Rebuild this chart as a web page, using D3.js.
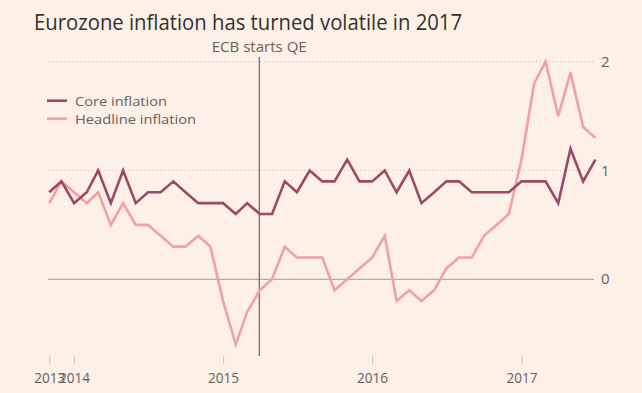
<!DOCTYPE html>
<html>
<head>
<meta charset="utf-8">
<script src="https://cdn.jsdelivr.net/npm/d3@7"></script>
<style>
  body { margin: 0; background: #fdf0e6; }
  svg { display: block; font-family: "Open Sans", "Noto Sans", sans-serif; }
</style>
</head>
<body>
<div id="chart"></div>
<script>
// months Oct 2013 .. Jun 2017
const months = [
  "2013-10","2013-11","2013-12",
  "2014-01","2014-02","2014-03","2014-04","2014-05","2014-06","2014-07","2014-08","2014-09","2014-10","2014-11","2014-12",
  "2015-01","2015-02","2015-03","2015-04","2015-05","2015-06","2015-07","2015-08","2015-09","2015-10","2015-11","2015-12",
  "2016-01","2016-02","2016-03","2016-04","2016-05","2016-06","2016-07","2016-08","2016-09","2016-10","2016-11","2016-12",
  "2017-01","2017-02","2017-03","2017-04","2017-05","2017-06"
];
const core = [
  0.8, 0.9, 0.7,
  0.8, 1.0, 0.7, 1.0, 0.7, 0.8, 0.8, 0.9, 0.8, 0.7, 0.7, 0.7,
  0.6, 0.7, 0.6, 0.6, 0.9, 0.8, 1.0, 0.9, 0.9, 1.1, 0.9, 0.9,
  1.0, 0.8, 1.0, 0.7, 0.8, 0.9, 0.9, 0.8, 0.8, 0.8, 0.8, 0.9,
  0.9, 0.9, 0.7, 1.2, 0.9, 1.1
];
const headline = [
  0.7, 0.9, 0.8,
  0.7, 0.8, 0.5, 0.7, 0.5, 0.5, 0.4, 0.3, 0.3, 0.4, 0.3, -0.2,
  -0.6, -0.3, -0.1, 0.0, 0.3, 0.2, 0.2, 0.2, -0.1, 0.0, 0.1, 0.2,
  0.4, -0.2, -0.1, -0.2, -0.1, 0.1, 0.2, 0.2, 0.4, 0.5, 0.6, 1.1,
  1.8, 2.0, 1.5, 1.9, 1.4, 1.3
];
const xTicks = ["2013-11-01", "2014-01-01", "2015-01-01", "2016-01-01", "2017-01-01"];
const yTicks = [0, 1, 2];
const seriesNames = ["Core inflation", "Headline inflation"];
const colors = ["#9d4966", "#f2a0a3"];
const qeDate = "2015-03";

const width = 642, height = 393;
const svg = d3.select("#chart").append("svg")
  .attr("width", width)
  .attr("height", height);

svg.append("rect").attr("width", width).attr("height", height).attr("fill", "#fdf0e6");

const parseMonth = d3.timeParse("%Y-%m");
// each month is plotted at the end of that month
const monthEnd = m => d3.timeMonth.offset(parseMonth(m), 1);

const x = d3.scaleTime()
  .domain([new Date(2013, 10, 1), new Date(2017, 6, 1)])
  .range([49.2, 595.4]);

const y = d3.scaleLinear()
  .domain([0, 2])
  .range([279.3, 61.7]);

// title
svg.append("text")
  .attr("x", 34)
  .attr("y", 30)
  .attr("font-size", 21)
  .attr("fill", "#33302e")
  .attr("textLength", 428)
  .attr("lengthAdjust", "spacingAndGlyphs")
  .text("Eurozone inflation has turned volatile in 2017");

// gridlines
svg.append("g")
  .selectAll("line")
  .data(yTicks)
  .join("line")
  .attr("x1", 48)
  .attr("x2", 594)
  .attr("y1", d => y(d))
  .attr("y2", d => y(d))
  .attr("stroke", d => d === 0 ? "#b3aba4" : "#c9bfb6")
  .attr("stroke-width", d => d === 0 ? 1.2 : 1)
  .attr("stroke-dasharray", d => d === 0 ? null : "1,3");

svg.append("g")
  .selectAll("text")
  .data(yTicks)
  .join("text")
  .attr("x", 601)
  .attr("y", d => y(d) + 5)
  .attr("font-size", 15)
  .attr("fill", "#66605c")
  .text(d => d);

// x axis
const xAxis = d3.axisBottom(x)
  .tickValues(xTicks.map(d => new Date(d + "T00:00")))
  .tickFormat(d3.timeFormat("%Y"))
  .tickSize(8)
  .tickPadding(8);

const gx = svg.append("g")
  .attr("transform", "translate(0,356)")
  .call(xAxis);
gx.select(".domain").remove();
gx.selectAll(".tick line").attr("stroke", "#cfc5bc");
gx.selectAll(".tick text")
  .attr("font-size", 15)
  .attr("font-family", "Open Sans, sans-serif")
  .attr("fill", "#66605c")
  .attr("textLength", 31)
  .attr("lengthAdjust", "spacingAndGlyphs");

// ECB QE marker
const qeX = x(monthEnd(qeDate)) - 0.6;
svg.append("line")
  .attr("x1", qeX).attr("x2", qeX)
  .attr("y1", 57).attr("y2", 356)
  .attr("stroke", "#4d4845")
  .attr("stroke-width", 1);
svg.append("text")
  .attr("x", qeX)
  .attr("y", 52)
  .attr("text-anchor", "middle")
  .attr("font-size", 14)
  .attr("fill", "#66605c")
  .attr("textLength", 95)
  .attr("lengthAdjust", "spacingAndGlyphs")
  .text("ECB starts QE");

// lines
const line = d3.line()
  .x((d, i) => x(monthEnd(months[i])))
  .y(d => y(d));

[headline, core].forEach((s, k) => {
  svg.append("path")
    .datum(s)
    .attr("fill", "none")
    .attr("stroke", k === 0 ? colors[1] : colors[0])
    .attr("stroke-width", 2.6)
    .attr("stroke-linejoin", "miter")
    .attr("d", line);
});

// legend
const legend = svg.append("g");
const legendWidths = [92, 121];
seriesNames.forEach((name, i) => {
  const ly = 100.7 + i * 18;
  legend.append("line")
    .attr("x1", 47).attr("x2", 67)
    .attr("y1", ly).attr("y2", ly)
    .attr("stroke", colors[i])
    .attr("stroke-width", 2.6);
  legend.append("text")
    .attr("x", 75)
    .attr("y", ly + 5)
    .attr("font-size", 13.5)
    .attr("fill", "#66605c")
    .attr("textLength", legendWidths[i])
    .attr("lengthAdjust", "spacingAndGlyphs")
    .text(name);
});
</script>
</body>
</html>
